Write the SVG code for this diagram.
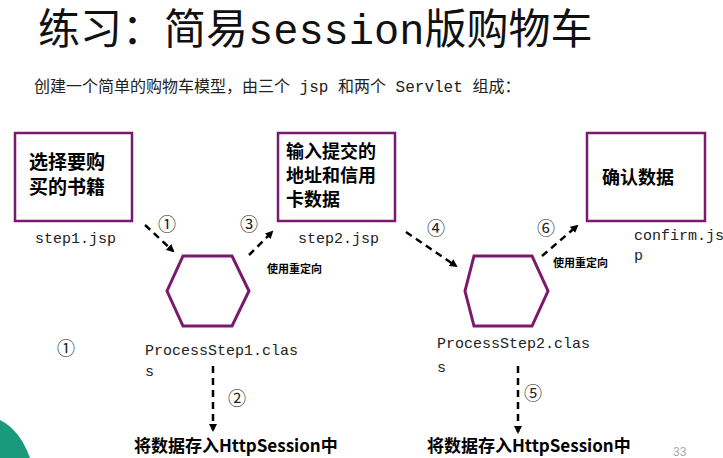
<svg xmlns="http://www.w3.org/2000/svg" width="723" height="458" viewBox="0 0 723 458">
<style>
.box{fill:#fff;stroke:#7a1a6e;stroke-width:2.5}
.hex{fill:#fff;stroke:#7a1a6e;stroke-width:3}
.zh{font-family:"Noto Sans CJK SC",sans-serif;font-weight:bold;fill:#000}
.mono{font-family:"Liberation Mono","Noto Sans CJK SC",monospace;fill:#222;font-size:15px}
.num{font-family:"Noto Sans CJK SC",sans-serif;font-size:18px;fill:#222}
.con{stroke:#000;stroke-width:2.5;stroke-dasharray:7,5;fill:none;marker-end:url(#ah)}
.small{font-family:"Noto Sans CJK SC",sans-serif;font-weight:bold;font-size:11px}
</style>
<defs><marker id="ah" markerWidth="8" markerHeight="8" refX="6" refY="4" orient="auto" markerUnits="userSpaceOnUse"><path d="M0,0L8,4L0,8z" fill="#000"/></marker></defs>
<rect width="723" height="458" fill="#fff"/>
<path d="M0,420 Q20,430 30,458 L0,458z" fill="#1a9a7a"/>
<text x="38" y="44" font-family="'Liberation Mono','Noto Sans CJK SC',monospace" font-size="42" fill="#111">练习：简易session版购物车</text>
<text x="34" y="92" font-family="'Liberation Mono','Noto Sans CJK SC',monospace" font-size="16" fill="#222">创建一个简单的购物车模型，由三个 jsp 和两个 Servlet 组成：</text>
<g id="step1"><rect class="box" x="15" y="133" width="117" height="88"/><text class="zh" font-size="19" x="29" y="169">选择要购</text><text class="zh" font-size="19" x="29" y="194">买的书籍</text><text class="mono" x="35" y="243">step1.jsp</text></g>
<g id="step2"><rect class="box" x="278" y="133" width="117" height="88"/><text class="zh" font-size="18" x="286" y="158">输入提交的</text><text class="zh" font-size="18" x="286" y="182">地址和信用</text><text class="zh" font-size="18" x="286" y="206">卡数据</text><text class="mono" x="298" y="243">step2.jsp</text></g>
<g id="confirm"><rect class="box" x="587" y="133" width="118" height="88"/><text class="zh" font-size="18" x="602" y="184">确认数据</text><text class="mono" x="634" y="240">confirm.js</text><text class="mono" x="634" y="260">p</text></g>
<g id="p1"><polygon class="hex" points="183,256 232,256 249,291 232,326 183,326 167,291"/><text class="mono" x="145" y="355">ProcessStep1.clas</text><text class="mono" x="145" y="376">s</text></g>
<g id="p2"><polygon class="hex" points="474,256 532,256 548,291 532,326 474,326 465,291"/><text class="mono" x="437" y="348">ProcessStep2.clas</text><text class="mono" x="437" y="372">s</text></g>
<g id="connectors">
<path class="con" d="M145,225L173,251"/>
<path class="con" d="M249,255L272,232"/>
<path class="con" d="M406,232L456,266"/>
<path class="con" d="M542,256L577,226"/>
<path class="con" d="M213,366L213,430"/>
<path class="con" d="M518,366L518,432"/>
</g>
<g id="labels">
<text class="num" x="158" y="231">①</text><text class="num" x="240" y="231">③</text>
<text class="num" x="427" y="235">④</text><text class="num" x="537" y="235">⑥</text>
<text class="num" x="57" y="355">①</text><text class="num" x="228" y="405">②</text><text class="num" x="524" y="400">⑤</text>
<text class="small" x="267" y="273">使用重定向</text><text class="small" x="553" y="267">使用重定向</text>
<text class="zh" font-size="17" x="134" y="452" font-family="'Liberation Serif','Noto Sans CJK SC',serif">将数据存入HttpSession中</text>
<text class="zh" font-size="17" x="427" y="452" font-family="'Liberation Serif','Noto Sans CJK SC',serif">将数据存入HttpSession中</text>
<text x="673" y="456" font-family="'Liberation Sans',sans-serif" font-size="12" fill="#aaa">33</text>
</g>
</svg>
